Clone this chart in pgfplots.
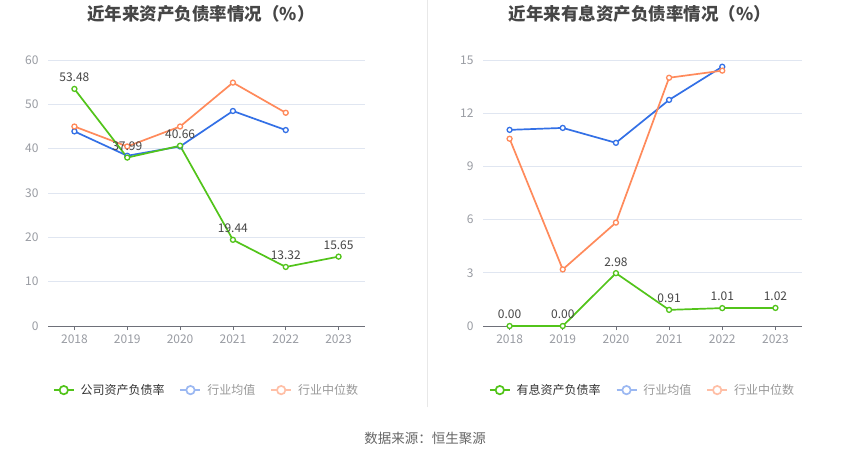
\documentclass[border=0pt]{standalone}
\usepackage{pgfplots}
\pgfplotsset{compat=1.18}
\usepackage{fontspec}
\setmainfont{Noto Sans CJK SC}

\definecolor{cgreen}{HTML}{52C41A}
\definecolor{cblue}{HTML}{3370E6}
\definecolor{corange}{HTML}{FF8A5B}
\definecolor{lgreen}{HTML}{52C41A}
\definecolor{lblue}{HTML}{9BB8F2}
\definecolor{lorange}{HTML}{FFBFA6}
\definecolor{gridc}{HTML}{E0E6F1}
\definecolor{axisc}{HTML}{6E7079}
\definecolor{tickc}{HTML}{999CA3}
\definecolor{titlec}{HTML}{464646}
\definecolor{labelc}{HTML}{464646}

\pgfplotsset{
  /pgf/number format/assume math mode=true,
  base/.style={
    scale only axis, anchor=south west,
    width=317pt, height=266pt,
    xmin=-0.5, xmax=5.5, ymin=0,
    xtick={0,...,5}, xticklabels={2018,2019,2020,2021,2022,2023},
    axis x line*=bottom, axis y line*=left,
    x axis line style={draw=axisc, line width=0.8pt, -},
    y axis line style={draw=none},
    ytick style={draw=none},
    xtick style={draw=axisc, line width=0.8pt},
    tick align=outside, major tick length=4pt,
    ymajorgrids, grid style={draw=gridc, line width=0.7pt},
    ticklabel style={font=\fontsize{12}{14}\selectfont, text=tickc},
    yticklabel style={xshift=-2pt},
    xticklabel style={yshift=-1pt},
    legend columns=3,
    legend style={draw=none, fill=none, font=\fontsize{12}{14}\selectfont,
      anchor=center, at={(0.5,-0.241)},
      /tikz/every even column/.append style={column sep=13pt},
      /tikz/every odd column/.append style={column sep=4pt},
      nodes={inner xsep=2pt}},
    legend image code/.code={
      \draw[#1, line width=1.7pt] (0pt,0pt) -- (20pt,0pt);
      \draw[#1, line width=1.7pt, fill=white] (10pt,0pt) circle (4.2pt);
    },
  },
  ser/.style={line width=1.7pt, mark=*, mark size=2.5pt,
    mark options={fill=white, line width=1.3pt}},
  lab/.style={nodes near coords, nodes near coords style={anchor=south, yshift=3pt,
    font=\fontsize{12}{14}\selectfont, text=labelc,
    /pgf/number format/.cd, fixed, fixed zerofill, precision=2}},
}

\begin{document}
\begin{tikzpicture}
\useasboundingbox (0pt,0pt) rectangle (850pt,459pt);
\fill[white] (0pt,0pt) rectangle (850pt,459pt);

\node[font=\fontsize{17.5}{20}\selectfont\bfseries, text=titlec] at (201pt,445pt) {近年来资产负债率情况（\%）};
\node[font=\fontsize{17.5}{20}\selectfont\bfseries, text=titlec] at (640pt,445pt) {近年来有息资产负债率情况（\%）};
\draw[draw=gray!18, line width=0.7pt] (427pt,52pt) -- (427pt,459pt);
\node[font=\fontsize{13.5}{16}\selectfont, text=black!60] at (425pt,21pt) {数据来源：恒生聚源};

\begin{axis}[base, at={(48pt,133pt)}, ymax=60, ytick={0,10,...,60}]
  \addlegendimage{draw=lgreen}
  \addlegendentry{\textcolor{black!80}{公司资产负债率}}
  \addlegendimage{draw=lblue}
  \addlegendentry{\textcolor{black!40}{行业均值}}
  \addlegendimage{draw=lorange}
  \addlegendentry{\textcolor{black!40}{行业中位数}}
  \addplot[ser, cblue, forget plot] coordinates {(0,43.9) (1,38.4) (2,40.5) (3,48.5) (4,44.2)};
  \addplot[ser, corange, forget plot] coordinates {(0,45.0) (1,40.5) (2,45.0) (3,54.9) (4,48.1)};
  \addplot[ser, cgreen, lab, forget plot] coordinates {(0,53.48) (1,37.99) (2,40.66) (3,19.44) (4,13.32) (5,15.65)};
\end{axis}

\begin{axis}[base, at={(483pt,133pt)}, width=319pt, ymax=15, ytick={0,3,...,15}]
  \addlegendimage{draw=lgreen}
  \addlegendentry{\textcolor{black!80}{有息资产负债率}}
  \addlegendimage{draw=lblue}
  \addlegendentry{\textcolor{black!40}{行业均值}}
  \addlegendimage{draw=lorange}
  \addlegendentry{\textcolor{black!40}{行业中位数}}
  \addplot[ser, cblue, forget plot] coordinates {(0,11.06) (1,11.17) (2,10.33) (3,12.75) (4,14.62)};
  \addplot[ser, corange, forget plot] coordinates {(0,10.56) (1,3.19) (2,5.83) (3,14.0) (4,14.4)};
  \addplot[ser, cgreen, lab, forget plot] coordinates {(0,0) (1,0) (2,2.98) (3,0.91) (4,1.01) (5,1.02)};
\end{axis}
\end{tikzpicture}
\end{document}
